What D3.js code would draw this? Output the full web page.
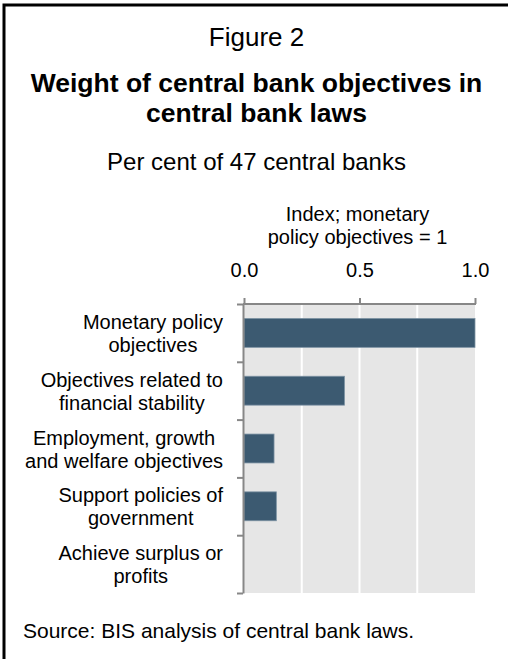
<!DOCTYPE html>
<html>
<head>
<meta charset="utf-8">
<script src="https://cdn.jsdelivr.net/npm/d3@7"></script>
<style>
  html, body { margin: 0; padding: 0; background: #fff; }
  svg { display: block; }
  text { font-family: "Liberation Sans", Arial, sans-serif; fill: #000; }
</style>
</head>
<body>
<script>
// Objective categories (each entry's lines are separated by "\n")
const categories = [
  "Monetary policy\nobjectives",
  "Objectives related to\nfinancial stability",
  "Employment, growth\nand welfare objectives",
  "Support policies of\ngovernment",
  "Achieve surplus or\nprofits"
];
// Index, monetary policy objectives = 1
const weights = [1.0, 0.435, 0.13, 0.14, 0.0];
const xTicks = [0, 0.5, 1.0];
const gridValues = [0.25, 0.5, 0.75];

const figureLabel = "Figure 2";
const titleLines = ["Weight of central bank objectives in", "central bank laws"];
const subtitle = "Per cent of 47 central banks";
const unitLines = ["Index; monetary", "policy objectives = 1"];
const source = "Source: BIS analysis of central bank laws.";

const W = 508, H = 659;
const plot = { left: 244, right: 475, top: 304, bottom: 593 };
const cx = 256.5;

const svg = d3.select("body").append("svg")
  .attr("width", W).attr("height", H);

svg.append("rect").attr("width", W).attr("height", H).attr("fill", "#fff");

// Frame on left and top edges
svg.append("path")
  .attr("d", `M4,${H} L4,5 L${W},5`)
  .attr("fill", "none").attr("stroke", "#000").attr("stroke-width", 3);

// Headings
svg.append("text").attr("x", cx).attr("y", 46)
  .attr("text-anchor", "middle").style("font-size", "26px").text(figureLabel);

svg.append("g").selectAll("text").data(titleLines).join("text")
  .attr("x", cx).attr("y", (d, i) => 92 + i * 30)
  .attr("text-anchor", "middle")
  .style("font-size", "26.5px").style("font-weight", "bold")
  .text(d => d);

svg.append("text").attr("x", cx).attr("y", 170)
  .attr("text-anchor", "middle").style("font-size", "24px").text(subtitle);

// Scales
const x = d3.scaleLinear().domain([0, 1]).range([plot.left, plot.right]);
const y = d3.scaleBand().domain(categories)
  .range([plot.top, plot.bottom]).paddingInner(0.5).paddingOuter(0.25);

// Unit label above the axis
svg.append("g").selectAll("text").data(unitLines).join("text")
  .attr("x", (plot.left + plot.right) / 2 - 2)
  .attr("y", (d, i) => 221 + i * 23)
  .attr("text-anchor", "middle").style("font-size", "20px")
  .text(d => d);

// Plot background and gridlines
svg.append("rect")
  .attr("x", plot.left).attr("y", plot.top)
  .attr("width", plot.right - plot.left).attr("height", plot.bottom - plot.top)
  .attr("fill", "#e6e6e6");

svg.append("g").selectAll("line").data(gridValues).join("line")
  .attr("x1", d => x(d)).attr("x2", d => x(d))
  .attr("y1", plot.top).attr("y2", plot.bottom)
  .attr("stroke", "#fff").attr("stroke-width", 2);

// Bars
svg.append("g").selectAll("rect").data(categories).join("rect")
  .attr("x", x(0))
  .attr("y", d => y(d))
  .attr("width", (d, i) => x(weights[i]) - x(0))
  .attr("height", y.bandwidth())
  .attr("fill", "#3c5a71")
  .attr("stroke", (d, i) => weights[i] > 0 ? "#7d93a4" : "none")
  .attr("stroke-width", 0.8);

// Top axis
const axisColor = "#878787";
const gx = svg.append("g").attr("transform", `translate(0,${plot.top})`)
  .call(d3.axisTop(x).tickValues(xTicks).tickFormat(d3.format(".1f"))
    .tickSize(6).tickSizeOuter(0).tickPadding(21));
gx.select(".domain").attr("stroke", axisColor).attr("stroke-width", 2)
  .attr("d", `M${plot.left - 1},0H${plot.right + 1}`);
gx.selectAll(".tick line").attr("stroke", axisColor).attr("stroke-width", 2);
gx.selectAll(".tick text")
  .style("font-family", "'Liberation Sans', Arial, sans-serif")
  .style("font-size", "20px").attr("fill", "#000");

// Left axis with ticks on the category boundaries
const bounds = d3.range(categories.length + 1);
const yb = d3.scaleLinear().domain([0, categories.length]).range([plot.top, plot.bottom]);
const gy = svg.append("g").attr("transform", `translate(${plot.left - 1},0)`)
  .call(d3.axisLeft(yb).tickValues(bounds).tickFormat("").tickSize(6).tickSizeOuter(0));
gy.select(".domain").attr("stroke", axisColor).attr("stroke-width", 2);
gy.selectAll(".tick line").attr("stroke", axisColor).attr("stroke-width", 2);

// Category labels: lines centred on each other, block right-aligned
const labelRight = 223;
const labels = svg.append("g").selectAll("g").data(categories).join("g");
labels.each(function (d) {
  const g = d3.select(this);
  const lines = d.split("\n");
  const mid = y(d) + y.bandwidth() / 2;
  const ts = g.selectAll("text").data(lines).join("text")
    .attr("y", (l, i) => mid - 4 + i * 23)
    .attr("text-anchor", "middle").style("font-size", "20px")
    .text(l => l);
  let maxW = 0;
  ts.each(function () { maxW = Math.max(maxW, this.getComputedTextLength()); });
  ts.attr("x", labelRight - maxW / 2);
});

// Source note
svg.append("text").attr("x", 23).attr("y", 638)
  .style("font-size", "21px").text(source);
</script>
</body>
</html>
